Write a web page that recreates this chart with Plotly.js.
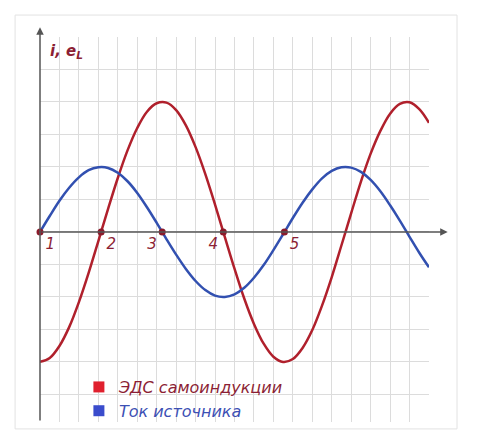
<!DOCTYPE html>
<html>
<head>
<meta charset="utf-8">
<script src="https://cdn.plot.ly/plotly-3.0.1.min.js"></script>
<style>
  html, body { margin: 0; padding: 0; background: #fff; }
  #chart { width: 480px; height: 440px; }
</style>
</head>
<body>
<div id="chart"></div>
<script>
// t in radians, one grid cell = 0.5, read every half cell
const tValues = [0, 0.25, 0.5, 0.75, 1, 1.25, 1.5, 1.75, 2, 2.25, 2.5, 2.75, 3, 3.25, 3.5, 3.75, 4, 4.25, 4.5, 4.75,
  5, 5.25, 5.5, 5.75, 6, 6.25, 6.5, 6.75, 7, 7.25, 7.5, 7.75, 8, 8.25, 8.5, 8.75, 9, 9.25, 9.5, 9.75, 10];
// current of the source (blue)
const currentValues = [0, 0.49, 0.96, 1.36, 1.68, 1.9, 1.99, 1.97, 1.82, 1.56, 1.2, 0.76, 0.28, -0.22, -0.7, -1.14, -1.51, -1.79, -1.96, -2,
  -1.92, -1.72, -1.41, -1.02, -0.56, -0.07, 0.43, 0.9, 1.31, 1.65, 1.88, 1.99, 1.98, 1.85, 1.6, 1.25, 0.82, 0.35, -0.15, -0.64, -1.09];
// self-induction EMF (red)
const emfValues = [-4, -3.88, -3.51, -2.93, -2.16, -1.26, -0.28, 0.71, 1.66, 2.51, 3.2, 3.7, 3.96, 3.98, 3.75, 3.28, 2.61, 1.78, 0.84, -0.15,
  -1.13, -2.05, -2.83, -3.44, -3.84, -4, -3.91, -3.57, -3.02, -2.27, -1.39, -0.41, 0.58, 1.55, 2.41, 3.11, 3.64, 3.94, 3.99, 3.78, 3.36];
// marked points on the t axis
const pointT = [0, 1.571, 3.142, 4.712, 6.283];
const pointY = [0, 0, 0, 0, 0];
const pointLabels = ['1', '2', '3', '4', '5'];
const pointLabelPos = ['bottom right', 'bottom right', 'bottom left', 'bottom left', 'bottom right'];

const seriesNames = ['ЭДС самоиндукции', 'Ток источника'];

const maroon = '#8c1f35';
const redLine = '#b0202c';
const blueLine = '#3250b0';
const labelFont = { family: 'DejaVu Sans', size: 15, color: maroon, style: 'italic' };

const traces = [
  {
    x: tValues, y: emfValues, type: 'scatter', mode: 'lines',
    line: { color: redLine, width: 2.5, shape: 'spline', smoothing: 1 },
    showlegend: false, hoverinfo: 'skip'
  },
  {
    x: tValues, y: currentValues, type: 'scatter', mode: 'lines',
    line: { color: blueLine, width: 2.5, shape: 'spline', smoothing: 1 },
    showlegend: false, hoverinfo: 'skip'
  },
  {
    x: pointT, y: pointY, type: 'scatter', mode: 'markers+text',
    marker: { color: '#8a1a2a', size: 7 },
    text: pointLabels, textposition: pointLabelPos,
    textfont: { family: 'DejaVu Sans', size: 15, color: maroon, style: 'italic' },
    cliponaxis: false, showlegend: false, hoverinfo: 'skip'
  },
  {
    x: [null], y: [null], type: 'scatter', mode: 'markers',
    name: '<span style="color:' + maroon + '">' + seriesNames[0] + '</span>',
    marker: { symbol: 'square', size: 11, color: '#e0202e' }
  },
  {
    x: [null], y: [null], type: 'scatter', mode: 'markers',
    name: '<span style="color:#3c50b4">' + seriesNames[1] + '</span>',
    marker: { symbol: 'square', size: 11, color: '#3a4ccc' }
  }
];

const layout = {
  width: 480, height: 440,
  margin: { l: 40, r: 51, t: 37, b: 18 },
  paper_bgcolor: '#fff', plot_bgcolor: '#fff',
  xaxis: {
    range: [0, 10], dtick: 0.5, tick0: 0,
    showgrid: true, gridcolor: '#dcdcdc', gridwidth: 1,
    zeroline: false, showline: false, showticklabels: false, ticks: '', fixedrange: true
  },
  yaxis: {
    range: [-5.85, 6], dtick: 1, tick0: 0,
    showgrid: true, gridcolor: '#dcdcdc', gridwidth: 1,
    zeroline: false, showline: false, showticklabels: false, ticks: '', fixedrange: true
  },
  showlegend: true,
  legend: {
    x: 0.1, y: 0.135, xanchor: 'left', yanchor: 'top',
    bgcolor: 'rgba(0,0,0,0)', tracegroupgap: 0,
    font: { family: 'DejaVu Sans', size: 16, style: 'italic' }
  },
  shapes: [
    // outer frame
    { type: 'rect', xref: 'paper', yref: 'paper', x0: -0.064, x1: 1.072, y0: -0.018, y1: 1.057,
      line: { color: '#e2e2e2', width: 1 }, layer: 'below' }
  ],
  annotations: [
    // t axis with arrow
    { x: 10.48, y: 0, ax: 0, ay: 0, xref: 'x', yref: 'y', axref: 'x', ayref: 'y',
      showarrow: true, arrowhead: 2, arrowsize: 1, arrowwidth: 1.5, arrowcolor: '#555', text: '' },
    // vertical axis with arrow
    { x: 0, y: 6.3, ax: 0, ay: -5.85, xref: 'x', yref: 'y', axref: 'x', ayref: 'y',
      showarrow: true, arrowhead: 2, arrowsize: 1, arrowwidth: 1.5, arrowcolor: '#555', text: '' },
    { x: 10.45, y: 0.25, xref: 'x', yref: 'y', xanchor: 'center', yanchor: 'bottom',
      showarrow: false, text: '<b>t</b>', font: { family: 'DejaVu Sans', size: 16, color: maroon, style: 'italic' } },
    { x: 0.2, y: 5.55, xref: 'x', yref: 'y', xanchor: 'left', yanchor: 'middle',
      showarrow: false, text: '<b>i, e<sub>L</sub></b>', font: labelFont }
  ]
};

Plotly.newPlot('chart', traces, layout, { staticPlot: true });
</script>
</body>
</html>
